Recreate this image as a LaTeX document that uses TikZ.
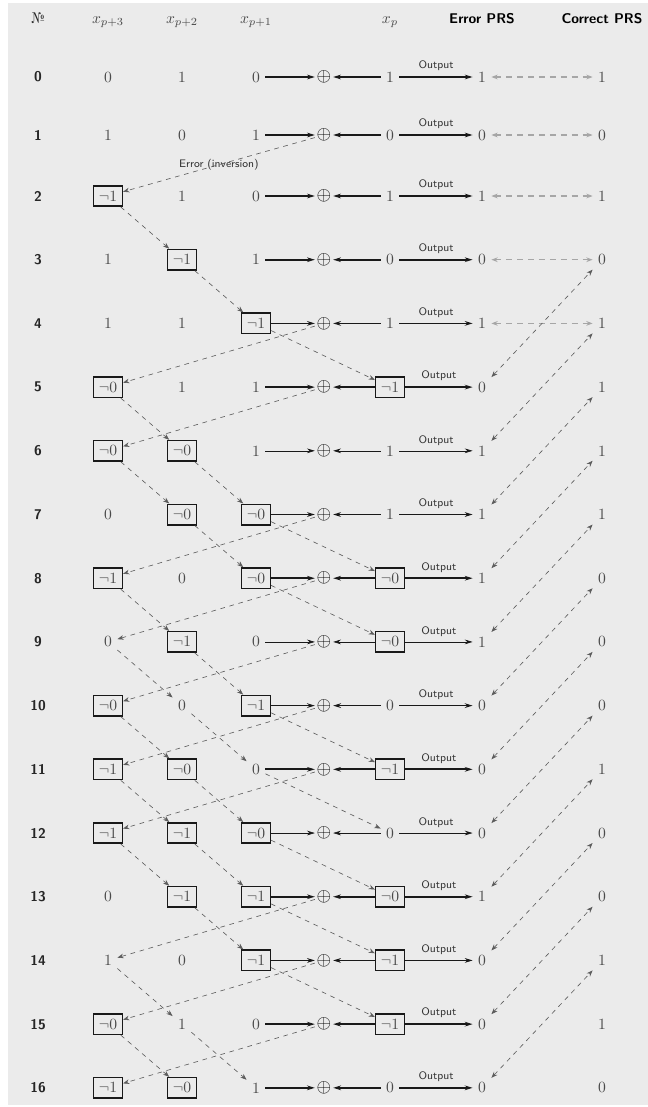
\documentclass[tikz,border=0pt]{standalone}
\usepackage{fontspec}
\usetikzlibrary{arrows.meta}
\definecolor{panel}{HTML}{EBEBEB}
\definecolor{ink}{HTML}{4A4A4A}
\definecolor{trace}{HTML}{5C5C5C}
\definecolor{pale}{HTML}{A6A6A6}
\def\negzero{n0}\def\negone{n1}
% one register cell: boxed when the bit is inverted (n0, n1)
\newcommand\bitcell[3]{\edef\bitval{#3}%
  \ifx\bitval\negzero\node[inv] (#1) at (#2) {$\neg0$};%
  \else\ifx\bitval\negone\node[inv] (#1) at (#2) {$\neg1$};%
  \else\node[bit] (#1) at (#2) {\bitval};\fi\fi}

\begin{document}
\begin{tikzpicture}[bit/.style={text=ink,inner sep=3.33pt},inv/.style={bit,draw=black!90,line width=1pt},xor/.style={font=\large,inner sep=1pt,text=black},rownum/.style={font=\small\sffamily\bfseries,text=black!85},colhead/.style={anchor=base,text=ink},prs/.style={anchor=base,font=\small\sffamily\bfseries},flow/.style={draw=black!90,-{Stealth[length=5pt,width=3pt]}},track/.style={draw=trace,dashed,line width=.4pt,-{Stealth[length=4pt,width=3pt]}},match/.style={draw=trace,dashed,line width=.4pt,{Stealth[length=4pt,width=3pt]}-{Stealth[length=4pt,width=3pt]}},pairdash/.style={draw=pale,line width=.8pt,dash pattern=on 4pt off 3pt,{Stealth[length=4pt,width=3pt]}-{Stealth[length=4pt,width=3pt]}},tag/.style={font=\scriptsize\sffamily,text=black!80}]
\useasboundingbox (0,0) rectangle (14.58,-24.9075);
\fill[panel] (0.18,-0.0675) rectangle (14.58,-24.8625);
% column heads
\node[colhead,text=black!85] (h-n) at (0.855,-0.52) {№};
\node[colhead] (h-p3) at (2.43,-0.52) {$x_{p+3}$};
\node[colhead] (h-p2) at (4.095,-0.52) {$x_{p+2}$};
\node[colhead] (h-p1) at (5.76,-0.52) {$x_{p+1}$};
\node[colhead] (h-p0) at (8.775,-0.52) {$x_p$};
\node[prs] (h-e) at (10.845,-0.52) {Error PRS};
\node[prs] (h-c) at (13.545,-0.52) {Correct PRS};
% rows: number / x_{p+3} / x_{p+2} / x_{p+1} / x_p / error / correct / line width
\foreach \i/\xa/\xb/\xc/\xd/\er/\ok/\lw in {0/0/1/0/1/1/1/1.1,1/1/0/1/0/0/0/1.1,2/n1/1/0/1/1/1/1.1,3/1/n1/1/0/0/0/1.1,4/1/1/n1/1/1/1/1.1,5/n0/1/1/n1/0/1/1.1,6/n0/n0/1/1/1/1/.4,7/0/n0/n0/1/1/1/1.1,8/n1/0/n0/n0/1/0/1.1,9/0/n1/0/n0/1/0/.4,10/n0/0/n1/0/0/0/1.1,11/n1/n0/0/n1/0/1/1.1,12/n1/n1/n0/0/0/0/.4,13/0/n1/n1/n0/1/0/1.1,14/1/0/n1/n1/0/1/.4,15/n0/1/0/n1/0/1/1.1,16/n1/n0/1/0/0/0/1.1}{
\pgfmathsetmacro\y{\i<2 ? -1.7325-1.305*\i : -4.41-1.4333*(\i-2)}
\node[rownum] (n-\i) at (0.855,\y) {\i};
\bitcell{p3-\i}{2.43,\y}{\xa}
\bitcell{p2-\i}{4.095,\y}{\xb}
\bitcell{p1-\i}{5.76,\y}{\xc}
\node[xor] (s-\i) at (7.29,\y) {$\oplus$};
\bitcell{p0-\i}{8.775,\y}{\xd}
\node[bit] (e-\i) at (10.845,\y) {\er};
\node[bit] (c-\i) at (13.545,\y) {\ok};
\draw[flow,line width=\lw pt] (p1-\i) -- (s-\i);
\draw[flow,line width=\lw pt] (p0-\i) -- (s-\i);
\draw[flow,line width=\lw pt] (p0-\i) -- node[tag,above]{Output} (e-\i);
}
% the inverted bit and how it moves through the register
\draw[track] (s-1) -- node[tag]{Error (inversion)} (p3-2);
\foreach \a/\b in {4/5,5/6,7/8,8/9,9/10,10/11,11/12,13/14,14/15,15/16}{\draw[track] (s-\a) -- (p3-\b);}
\foreach \a/\b in {2/3,5/6,6/7,8/9,9/10,10/11,11/12,12/13,14/15,15/16}{\draw[track] (p3-\a) -- (p2-\b);}
\foreach \a/\b in {3/4,6/7,7/8,9/10,10/11,11/12,12/13,13/14,15/16}{\draw[track] (p2-\a) -- (p1-\b);}
\foreach \a/\b in {4/5,7/8,8/9,10/11,11/12,12/13,13/14,14/15}{\draw[track] (p1-\a) -- (p0-\b);}
% error and correct sequences compared
\foreach \a in {0,...,4}{\draw[pairdash] (e-\a) -- (c-\a);}
\foreach \a/\b in {5/3,6/4,7/5,8/6,9/7,10/8,11/9,12/10,13/11,14/12,15/13,16/14}{\draw[match] (e-\a) -- (c-\b);}
\end{tikzpicture}
\end{document}
